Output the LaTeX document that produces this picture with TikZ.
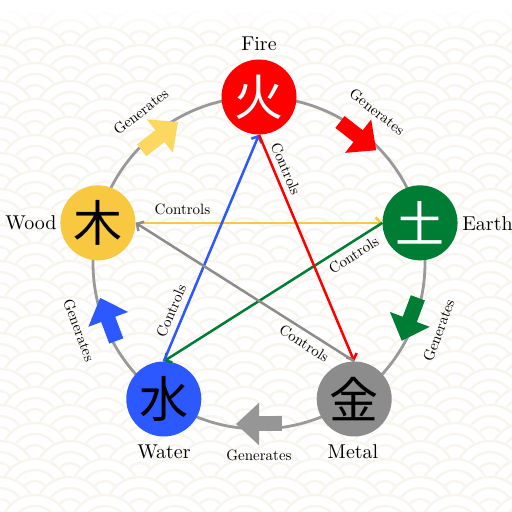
\documentclass[tikz,border=0pt]{standalone}
\usepackage{fontspec}
\setmainfont{lmroman10-regular.otf}
\newfontfamily\cjk{Noto Sans CJK JP}
\usetikzlibrary{arrows.meta,calc}
\definecolor{fireC}{RGB}{255,0,0}
\definecolor{earthC}{RGB}{0,125,52}
\definecolor{woodC}{RGB}{248,200,64}
\definecolor{woodA}{RGB}{253,216,96}
\definecolor{waterC}{RGB}{44,88,255}
\definecolor{metalC}{RGB}{140,140,140}
\definecolor{metalA}{RGB}{150,150,150}
\definecolor{ringC}{RGB}{153,153,153}
\definecolor{waveC}{RGB}{248,245,239}
\tikzset{
  elem/.style={circle, minimum size=75pt, inner sep=0pt, font=\cjk\fontsize{49}{49}\selectfont},
  namelbl/.style={font=\fontsize{20}{23}\selectfont, inner sep=0pt},
  ctrl/.style={line width=2.5pt, -{Straight Barb[length=5pt,width=11pt]}},
  clbl/.style={sloped, text=black, inner sep=1pt, font=\fontsize{15}{17}\selectfont},
  gen/.style={line width=15pt, -{Triangle[length=23pt,width=41pt]}},
  glbl/.style={font=\fontsize{15}{17}\selectfont, inner sep=0pt},
  wave/.style={draw=waveC, line width=2.3pt}
}
\begin{document}
\begin{tikzpicture}[x=1pt,y=1pt]
\useasboundingbox (0,0) rectangle (512,512);
% background seigaiha pattern
\begin{scope}
\clip (0,0) rectangle (512,512);
\fill[white] (0,0) rectangle (512,512);
\foreach \j in {0,...,32}{
  \pgfmathsetmacro{\yy}{540-\j*18}
  \pgfmathsetmacro{\off}{mod(\j,2)*35}
  \foreach \i in {-1,...,8}{
    \pgfmathsetmacro{\xx}{\i*70+\off}
    \fill[white] (\xx,\yy) circle (36.5);
    \draw[wave] (\xx,\yy) circle (35) (\xx,\yy) circle (24) (\xx,\yy) circle (13);
  }
}
\foreach \k in {0,...,34}{
  \pgfmathsetmacro{\op}{min(1,(35-\k)/27)}
  \fill[white, opacity=\op] (0,512-\k) rectangle (512,511-\k);
}
\end{scope}
% main ring
\coordinate (C) at (259,249);
\draw[ringC, line width=2.8pt] (C) circle (166);
% elements
\node[elem, fill=fireC, text=white] (fire) at ($(C)+(90:166)$) {火};
\node[elem, fill=earthC, text=white] (earth) at ($(C)+(14:166)$) {土};
\node[elem, fill=metalC, text=black] (metal) at ($(C)+(-55:166)$) {金};
\node[elem, fill=waterC, text=black] (water) at ($(C)+(-125:166)$) {水};
\node[elem, fill=woodC, text=black] (wood) at ($(C)+(166:166)$) {木};
% names
\node[namelbl] (nfire) at (259,468) {Fire};
\node[namelbl] (nearth) at (487.5,288.5) {Earth};
\node[namelbl] (nwood) at (31,289) {Wood};
\node[namelbl] (nwater) at (164,60.5) {Water};
\node[namelbl] (nmetal) at (353,60.5) {Metal};
% generating cycle
\foreach \a/\c/\r [count=\k] in {128/woodA/38, 52/fireC/-38, -20.5/earthC/69.5, -90/metalA/0, -159.5/waterC/-69.5}{
  \coordinate (gs\k) at ($(C)+(\a:161)+(\a+90:23)$);
  \coordinate (ge\k) at ($(C)+(\a:161)+(\a-90:23)$);
  \draw[gen, \c] (gs\k) -- (ge\k);
  \node[glbl, rotate=\r] (gl\k) at ($(C)+(\a:192)$) {Generates};
}
% controlling cycle
\draw[ctrl, woodC] (wood.east) -- node[clbl, above=6pt, pos=0.19] (cl1) {Controls} (earth.west);
\draw[ctrl, earthC] (earth.west) -- node[clbl, below=4pt, pos=0.16] (cl2) {Controls} (water.north);
\draw[ctrl, waterC] (water.north) -- node[clbl, above=5pt, pos=0.2] (cl3) {Controls} (fire.south);
\draw[ctrl, fireC] (fire.south) -- node[clbl, above=4pt, pos=0.17] (cl4) {Controls} (metal.north);
\draw[ctrl, metalC] (metal.north) -- node[clbl, below=4pt, pos=0.2] (cl5) {Controls} (wood.east);
\end{tikzpicture}
\end{document}
